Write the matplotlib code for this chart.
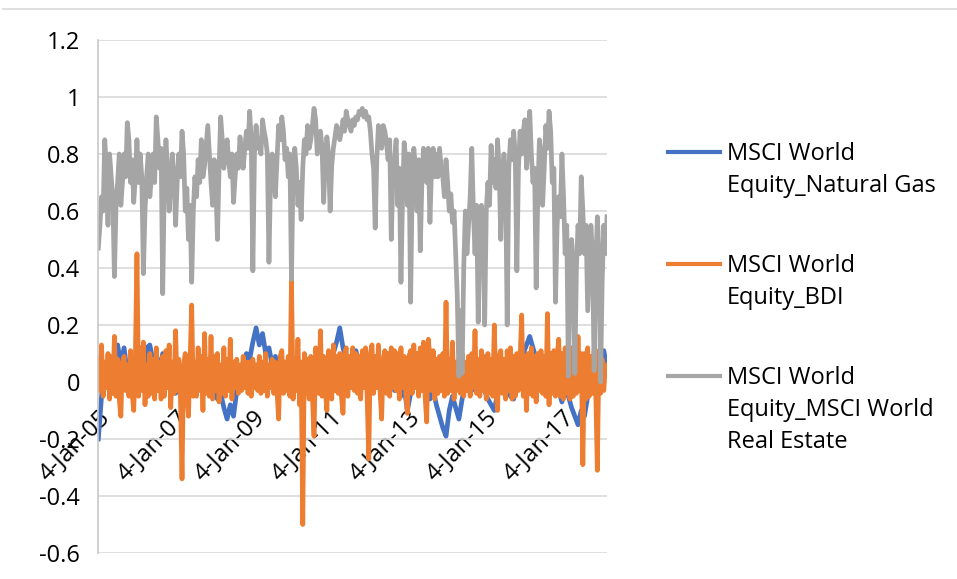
import matplotlib
matplotlib.use("Agg")
import matplotlib.pyplot as plt
from matplotlib.lines import Line2D
import pandas as pd

plt.rcParams["font.family"] = ["Open Sans", "DejaVu Sans"]

# Readings, from 4-Jan-05 to early 2018.
# Natural gas is read about once a month, the two busier series twice a month.
start_date = "2005-01-04"
end_date = "2018-03-04"

natural_gas = [
    -0.20, -0.05, 0.04, 0.08, 0.02, 0.10, 0.13, 0.06, 0.12, 0.03,
    0.08, 0.01, 0.06, 0.10, 0.04, 0.12, 0.13, 0.07, 0.10, 0.03,
    0.10, 0.05, 0.02, -0.02, -0.04, 0.01, -0.03, 0.04, 0.00, 0.06,
    0.02, 0.05, -0.01, 0.04, 0.01, 0.03, -0.02, -0.06, -0.04, -0.09,
    -0.13, -0.08, -0.12, -0.03, 0.03, 0.06, 0.10, 0.08, 0.14, 0.19,
    0.13, 0.17, 0.10, 0.12, 0.06, 0.09, 0.04, 0.07, 0.03, 0.08,
    0.05, 0.08, 0.03, 0.06, 0.01, 0.04, -0.03, 0.02, 0.05, 0.08,
    0.04, 0.07, 0.03, 0.10, 0.14, 0.19, 0.12, 0.08, 0.05, 0.09,
    0.11, 0.06, 0.02, -0.01, 0.03, 0.00, 0.04, -0.02, 0.03, 0.01,
    0.05, 0.02, -0.03, 0.01, -0.05, -0.02, -0.10, -0.04, 0.00, 0.03,
    0.05, 0.02, -0.02, -0.06, -0.03, -0.08, -0.12, -0.16, -0.19, -0.10,
    -0.05, -0.09, -0.13, -0.06, -0.01, 0.02, -0.03, 0.01, 0.04, 0.00,
    -0.03, -0.06, -0.08, -0.10, -0.04, 0.00, 0.02, -0.02, -0.05, -0.06,
    0.01, 0.06, 0.10, 0.13, 0.16, 0.12, 0.08, 0.04, 0.06, 0.02,
    0.03, -0.01, 0.02, -0.03, -0.07, -0.02, -0.05, -0.09, -0.12, -0.15,
    -0.10, -0.12, -0.05, 0.01, 0.04, 0.03, 0.08, 0.11, 0.05,
]

bdi = [
    0.08, -0.03, 0.13, -0.05, 0.07, -0.02, 0.10, -0.06, 0.09, -0.04, 0.16, -0.05, 0.08, -0.06, -0.12, 0.07, 0.09, -0.03, 0.06, -0.05,
    0.11, -0.04, -0.10, 0.08, 0.45, -0.05, 0.12, -0.03, 0.14, -0.08, 0.06, -0.05, 0.10, -0.04, 0.08, -0.06, 0.12, -0.03, 0.07, -0.06,
    0.09, -0.05, 0.11, -0.02, 0.13, -0.09, 0.07, -0.04, 0.18, -0.03, 0.08, -0.05, -0.34, 0.06, 0.10, -0.04, -0.12, 0.08, 0.27, -0.05,
    0.07, -0.05, 0.12, -0.03, 0.09, -0.10, 0.17, -0.04, 0.08, -0.05, 0.16, -0.06, 0.09, -0.03, 0.10, -0.07, 0.06, -0.04, 0.12, -0.05,
    0.08, -0.03, 0.15, -0.06, 0.07, -0.02, 0.08, -0.04, 0.06, -0.03, 0.09, -0.02, 0.07, -0.04, 0.07, -0.05, 0.08, -0.02, 0.06, -0.03,
    0.09, -0.04, 0.07, -0.03, 0.10, -0.05, 0.06, -0.02, 0.08, -0.04, 0.07, -0.03, -0.13, 0.09, 0.11, -0.04, 0.07, -0.03, 0.09, -0.05,
    0.36, -0.06, 0.08, -0.03, 0.15, -0.08, 0.07, -0.50, 0.10, -0.04, 0.08, -0.06, 0.09, -0.05, -0.19, 0.12, 0.07, -0.04, 0.18, -0.05,
    0.09, -0.03, -0.10, 0.11, 0.08, -0.06, 0.13, -0.03, 0.09, -0.04, 0.10, -0.05, -0.11, 0.10, 0.12, -0.05, 0.09, -0.02, 0.12, -0.03,
    0.10, -0.04, 0.09, -0.06, 0.11, -0.02, 0.12, -0.05, -0.27, 0.10, 0.13, -0.04, 0.09, -0.02, 0.13, -0.03, -0.13, 0.08, 0.11, -0.04,
    0.10, -0.05, 0.12, -0.02, 0.11, -0.03, 0.10, -0.06, 0.12, -0.02, 0.09, -0.04, -0.11, 0.09, 0.11, -0.04, 0.13, -0.02, 0.10, -0.05,
    0.12, -0.03, 0.14, -0.05, -0.14, 0.15, 0.09, -0.03, 0.11, -0.06, 0.08, -0.04, 0.09, -0.03, 0.10, -0.05, 0.28, -0.04, 0.08, -0.03,
    0.14, -0.06, 0.07, -0.03, 0.08, -0.04, 0.10, -0.05, 0.07, -0.03, 0.09, -0.05, 0.10, -0.02, 0.18, -0.04, 0.08, -0.05, 0.11, -0.03,
    0.09, -0.06, 0.10, -0.04, 0.08, -0.05, 0.20, -0.03, -0.10, 0.09, 0.11, -0.04, 0.08, -0.06, 0.11, -0.03, 0.12, -0.06, 0.09, -0.05,
    0.10, -0.03, 0.08, 0.235, -0.05, 0.09, -0.10, 0.10, -0.04, 0.12, -0.05, 0.09, -0.07, 0.10, -0.03, 0.11, -0.04, 0.09, -0.05, 0.24,
    -0.08, 0.10, -0.04, 0.11, -0.05, 0.09, 0.15, -0.05, 0.10, -0.06, 0.12, -0.04, 0.10, -0.06, 0.12, -0.05, 0.09, -0.04, 0.16, -0.03,
    0.10, -0.29, 0.10, -0.06, 0.12, -0.05, 0.09, -0.04, 0.11, -0.03, -0.31, 0.11, -0.04, 0.08, -0.03, 0.06, 0.03,
]

real_estate = [
    0.47, 0.55, 0.65, 0.60, 0.85, 0.75, 0.55, 0.80, 0.72, 0.65, 0.37, 0.62, 0.70, 0.80, 0.62, 0.70, 0.80, 0.72, 0.91, 0.85,
    0.70, 0.78, 0.63, 0.72, 0.85, 0.70, 0.80, 0.72, 0.38, 0.60, 0.72, 0.80, 0.65, 0.72, 0.80, 0.70, 0.93, 0.85, 0.75, 0.82,
    0.31, 0.70, 0.85, 0.75, 0.60, 0.70, 0.80, 0.72, 0.55, 0.70, 0.80, 0.72, 0.88, 0.80, 0.60, 0.68, 0.50, 0.62, 0.35, 0.60,
    0.72, 0.65, 0.78, 0.70, 0.85, 0.72, 0.76, 0.83, 0.90, 0.80, 0.70, 0.62, 0.78, 0.70, 0.50, 0.75, 0.93, 0.85, 0.75, 0.80,
    0.85, 0.78, 0.72, 0.80, 0.63, 0.72, 0.80, 0.75, 0.86, 0.80, 0.75, 0.82, 0.88, 0.82, 0.95, 0.85, 0.39, 0.80, 0.90, 0.82,
    0.85, 0.80, 0.92, 0.88, 0.85, 0.80, 0.42, 0.72, 0.80, 0.72, 0.65, 0.78, 0.90, 0.85, 0.93, 0.88, 0.78, 0.82, 0.72, 0.80,
    0.36, 0.75, 0.82, 0.75, 0.62, 0.70, 0.57, 0.75, 0.85, 0.80, 0.90, 0.82, 0.85, 0.90, 0.96, 0.92, 0.80, 0.85, 0.88, 0.82,
    0.63, 0.78, 0.86, 0.80, 0.60, 0.76, 0.82, 0.86, 0.90, 0.88, 0.85, 0.88, 0.92, 0.88, 0.95, 0.92, 0.90, 0.88, 0.92, 0.90,
    0.93, 0.92, 0.95, 0.94, 0.96, 0.93, 0.95, 0.92, 0.93, 0.88, 0.80, 0.75, 0.54, 0.78, 0.90, 0.86, 0.82, 0.90, 0.88, 0.84,
    0.78, 0.85, 0.50, 0.72, 0.78, 0.85, 0.62, 0.75, 0.35, 0.65, 0.84, 0.78, 0.62, 0.80, 0.28, 0.70, 0.82, 0.75, 0.60, 0.78,
    0.46, 0.70, 0.82, 0.78, 0.70, 0.82, 0.56, 0.75, 0.82, 0.72, 0.80, 0.72, 0.82, 0.75, 0.72, 0.65, 0.78, 0.70, 0.60, 0.66,
    0.56, 0.60, 0.45, 0.30, 0.02, 0.25, 0.03, 0.40, 0.60, 0.45, 0.55, 0.65, 0.82, 0.60, 0.45, 0.62, 0.21, 0.50, 0.62, 0.55,
    0.20, 0.60, 0.70, 0.62, 0.83, 0.70, 0.78, 0.68, 0.85, 0.75, 0.50, 0.72, 0.80, 0.70, 0.20, 0.75, 0.85, 0.78, 0.88, 0.80,
    0.39, 0.75, 0.88, 0.80, 0.88, 0.92, 0.75, 0.85, 0.95, 0.80, 0.70, 0.75, 0.33, 0.65, 0.85, 0.80, 0.62, 0.75, 0.90, 0.82,
    0.95, 0.88, 0.70, 0.75, 0.28, 0.55, 0.65, 0.58, 0.80, 0.65, 0.45, 0.55, 0.02, 0.35, 0.50, 0.40, 0.03, 0.40, 0.55, 0.45,
    0.72, 0.60, 0.45, 0.55, 0.25, 0.40, 0.55, 0.45, 0.04, 0.40, 0.58, 0.45, 0.00, 0.35, 0.55, 0.45, 0.58,
]

series_labels = [
    "MSCI World\nEquity_Natural Gas",
    "MSCI World\nEquity_BDI",
    "MSCI World\nEquity_MSCI World\nReal Estate",
]

tick_dates = ["2005-01-04", "2007-01-04", "2009-01-04", "2011-01-04",
              "2013-01-04", "2015-01-04", "2017-01-04"]
tick_labels = ["4-Jan-05", "4-Jan-07", "4-Jan-09", "4-Jan-11",
               "4-Jan-13", "4-Jan-15", "4-Jan-17"]
y_ticks = [-0.6, -0.4, -0.2, 0, 0.2, 0.4, 0.6, 0.8, 1, 1.2]

COLORS = ["#4472C4", "#ED7D31", "#A5A5A5"]
GRID = "#D9D9D9"
W, H = 957, 579


def sample_dates(n):
    return pd.date_range(start_date, end_date, periods=n)


fig = plt.figure(figsize=(W / 100, H / 100), dpi=100)
fig.patch.set_facecolor("white")
ax = fig.add_axes([98 / W, 1 - 553 / H, (607 - 98) / W, (553 - 40) / H])

# x axis sits on y = 0, as in the Excel original (set before the ticks,
# moving a spine resets them)
ax.spines["bottom"].set_position(("data", 0))
ax.spines["bottom"].set_visible(False)
for side in ("top", "right"):
    ax.spines[side].set_visible(False)
ax.spines["left"].set_color("#C8C8C8")
ax.spines["left"].set_linewidth(1.2)

for values, color in zip([natural_gas, bdi, real_estate], COLORS):
    ax.plot(sample_dates(len(values)), values, color=color, lw=3.4,
            solid_joinstyle="round")

ax.set_ylim(-0.6, 1.2)
ax.set_yticks(y_ticks)
ax.set_yticklabels([f"{v:g}" for v in y_ticks])
ax.set_xlim(pd.Timestamp(start_date) - pd.Timedelta(days=3), pd.Timestamp(end_date))
ax.set_xticks(pd.to_datetime(tick_dates))
ax.set_xticklabels(tick_labels, rotation=45, ha="right", rotation_mode="anchor")

ax.grid(axis="y", color=GRID, lw=1.2)
ax.set_axisbelow(True)
ax.tick_params(axis="x", length=0, pad=17, labelsize=17, colors="black")
ax.tick_params(axis="y", length=0, pad=13, labelsize=17, colors="black")

# chart-area border line at the top
fig.add_artist(Line2D([3 / W, 1], [1 - 9 / H, 1 - 9 / H], color=GRID, lw=1.2,
                      transform=fig.transFigure))

# legend drawn Excel-style: handle level with the first text line
for k, (label, color) in enumerate(zip(series_labels, COLORS)):
    y0 = 152 + 112 * k
    fig.add_artist(Line2D([668 / W, 720 / W], [1 - y0 / H, 1 - y0 / H], color=color,
                          lw=3.0, transform=fig.transFigure))
    for j, line in enumerate(label.split("\n")):
        fig.text(727 / W, 1 - (y0 + 8 + 32 * j) / H, line, fontsize=17,
                 va="baseline", ha="left")

fig.savefig("out.png", dpi=100, facecolor="white")
